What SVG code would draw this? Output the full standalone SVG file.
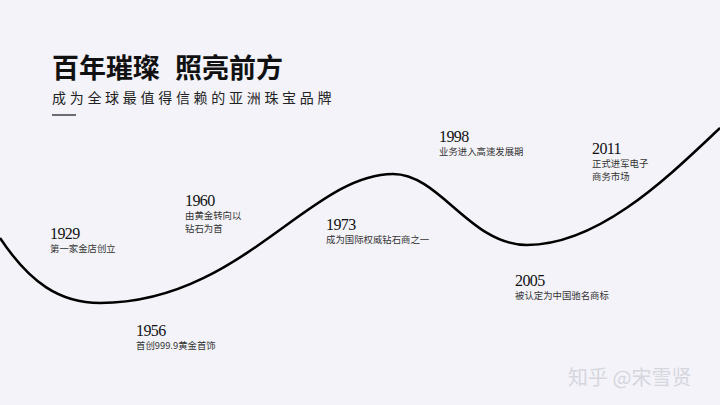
<svg xmlns="http://www.w3.org/2000/svg" width="720" height="405" viewBox="0 0 720 405">
<style>
.title{font-family:"Noto Sans CJK SC",sans-serif;font-weight:700;font-size:27px;fill:#111}
.sub{font-family:"Noto Sans CJK SC",sans-serif;font-size:14px;letter-spacing:3.7px;fill:#222}
.yr{font-family:"Liberation Serif",serif;font-size:16px;fill:#111;letter-spacing:-0.6px}
.desc{font-family:"Noto Sans CJK SC",sans-serif;font-size:9.4px;fill:#333}
.wm{font-family:"Noto Sans CJK SC",sans-serif;font-size:20px;fill:#d6d6de}
</style>
<rect width="720" height="405" fill="#f3f3f9"/>
<g id="header">
<text class="title" x="52" y="78">百年璀璨</text>
<text class="title" x="175" y="78">照亮前方</text>
<text class="sub" x="52" y="103">成为全球最值得信赖的亚洲珠宝品牌</text>
<line x1="52" y1="115" x2="76" y2="115" stroke="#222" stroke-width="1.3"/>
</g>
<g id="connectors">
<path d="M0,238 C30,283 60,303 100,303 C240,303 310,174 393,174 C440,174 470,245 527,245 C600,245 670,175 720,128" fill="none" stroke="#000" stroke-width="2.5"/>
</g>
<g id="m1929"><text class="yr" x="50" y="239">1929</text><text class="desc" x="50" y="252">第一家金店创立</text></g>
<g id="m1956"><text class="yr" x="136" y="336">1956</text><text class="desc" x="136" y="349">首创999.9黄金首饰</text></g>
<g id="m1960"><text class="yr" x="185" y="206">1960</text><text class="desc" x="185" y="218.5">由黄金转向以</text><text class="desc" x="185" y="232.2">钻石为首</text></g>
<g id="m1973"><text class="yr" x="326" y="230">1973</text><text class="desc" x="326" y="243">成为国际权威钻石商之一</text></g>
<g id="m1998"><text class="yr" x="439" y="142">1998</text><text class="desc" x="439" y="155">业务进入高速发展期</text></g>
<g id="m2005"><text class="yr" x="515" y="286">2005</text><text class="desc" x="515" y="299">被认定为中国驰名商标</text></g>
<g id="m2011"><text class="yr" x="592" y="154">2011</text><text class="desc" x="592" y="166.5">正式进军电子</text><text class="desc" x="592" y="180.2">商务市场</text></g>
<g id="watermark"><text class="wm" x="568" y="385">知乎 @宋雪贤</text></g>
</svg>
